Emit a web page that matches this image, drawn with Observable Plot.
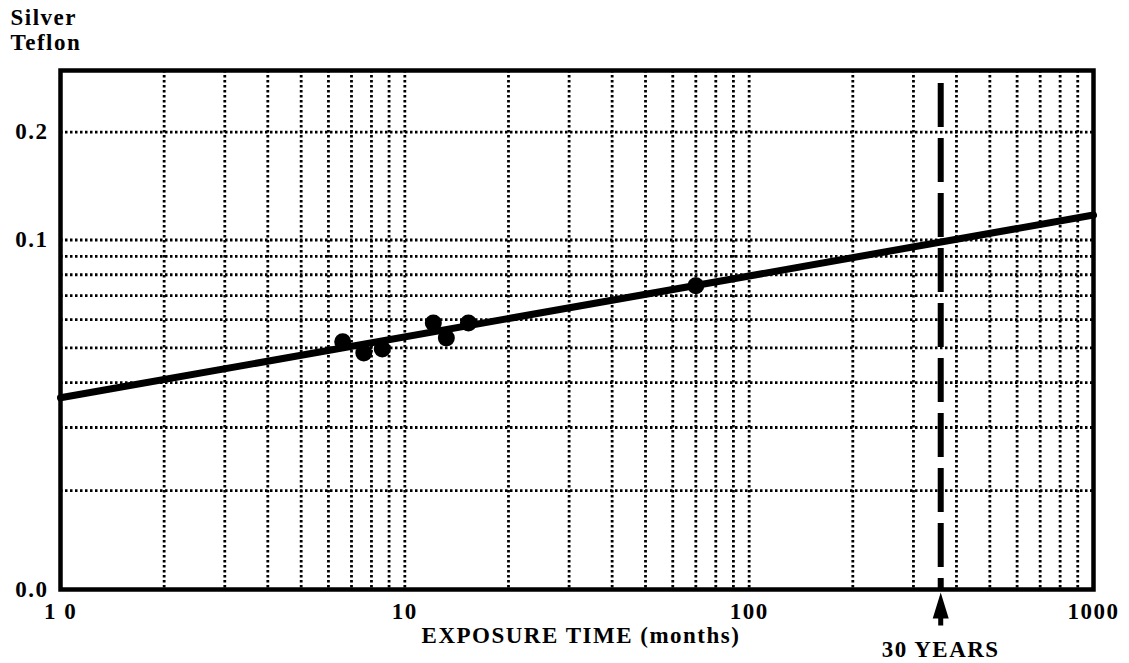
<!DOCTYPE html>
<html><head><meta charset="utf-8">
<script src="https://cdn.jsdelivr.net/npm/d3@7"></script>
<script src="https://cdn.jsdelivr.net/npm/@observablehq/plot@0.6"></script>
<style>body{margin:0;background:#fff}</style>
</head><body><div id="chart"></div>
<script>
const titleLines = ["Silver", "Teflon"];
const xLabel = "EXPOSURE TIME (months)";
const obsMonths = [6.6, 7.6, 8.6, 12.1, 13.2, 15.3, 70];
const obsValues = [0.0520, 0.0484, 0.0497, 0.0587, 0.0533, 0.0587, 0.0745];
const fitMonths = [1, 1000];
const fitValues = [0.0363, 0.1174];
const xTicks = [1, 10, 100, 1000];
const xTickLabels = ["1 0", "10", "100", "1000"];
const yTicks = [0.0106, 0.1, 0.2];
const yTickLabels = ["0.0", "0.1", "0.2"];
const xGrid = [2,3,4,5,6,7,8,9,10,20,30,40,50,60,70,80,90,100,200,300,400,500,600,700,800,900];
const yGrid = [0.02,0.03,0.04,0.05,0.06,0.07,0.08,0.09,0.1,0.2];
const markerMonths = [360];
const markerLabels = ["30 YEARS"];

const obs = obsMonths.map((m, i) => ({m, v: obsValues[i]}));
const fit = fitMonths.map((m, i) => ({m, v: fitValues[i]}));

const arrowUp = {
  draw(ctx) {
    ctx.moveTo(0, 0);
    ctx.lineTo(8, 26);
    ctx.lineTo(2.5, 26);
    ctx.lineTo(2.5, 33);
    ctx.lineTo(-2.5, 33);
    ctx.lineTo(-2.5, 26);
    ctx.lineTo(-8, 26);
    ctx.closePath();
  }
};

const chart = Plot.plot({
  width: 1129,
  height: 663,
  marginLeft: 60,
  marginRight: 36,
  marginTop: 70,
  marginBottom: 74,
  x: {type: "log", domain: [1, 1000]},
  y: {type: "log", domain: [0.0106, 0.297]},
  style: {fontFamily: "'Liberation Serif', serif", fontWeight: "bold", fontSize: "23px", letterSpacing: "1.5px", background: "white", color: "black"},
  marks: [
    Plot.ruleX(xGrid, {stroke: "black", strokeWidth: 2.8, strokeDasharray: "2.5 2.5"}),
    Plot.ruleY(yGrid, {stroke: "black", strokeWidth: 2.8, strokeDasharray: "2.5 2.5"}),
    Plot.ruleX(markerMonths, {stroke: "black", strokeWidth: 6, strokeDasharray: "44 11", insetTop: 13}),
    Plot.line(fit, {x: "m", y: "v", stroke: "black", strokeWidth: 7}),
    Plot.dot(obs, {x: "m", y: "v", r: 8.5, fill: "black"}),
    Plot.frame({stroke: "black", strokeWidth: 4.5}),
    Plot.axisX(xTicks, {tickSize: 0, tickPadding: 13, tickFormat: d => xTickLabels[xTicks.indexOf(d)], label: null, fontSize: 23}),
    Plot.axisY(yTicks, {tickSize: 0, tickPadding: 12, tickFormat: d => yTickLabels[yTicks.indexOf(d)], label: null, fontSize: 23}),
    Plot.dot(markerMonths, {x: d => d, frameAnchor: "bottom", symbol: arrowUp, fill: "black", stroke: "none", dy: 3}),
    Plot.text(markerLabels, {x: (d, i) => markerMonths[i], frameAnchor: "bottom", dy: 67, text: d => d, fontSize: 23}),
    Plot.text([xLabel], {frameAnchor: "bottom", dx: 4, dy: 53, text: d => d, fontSize: 23}),
    Plot.text([titleLines.join("\n")], {frameAnchor: "top-left", dx: -50, dy: -63, textAnchor: "start", lineAnchor: "top", lineHeight: 1.09, text: d => d, fontSize: 23})
  ]
});
document.getElementById("chart").appendChild(chart);
</script>
</body></html>
